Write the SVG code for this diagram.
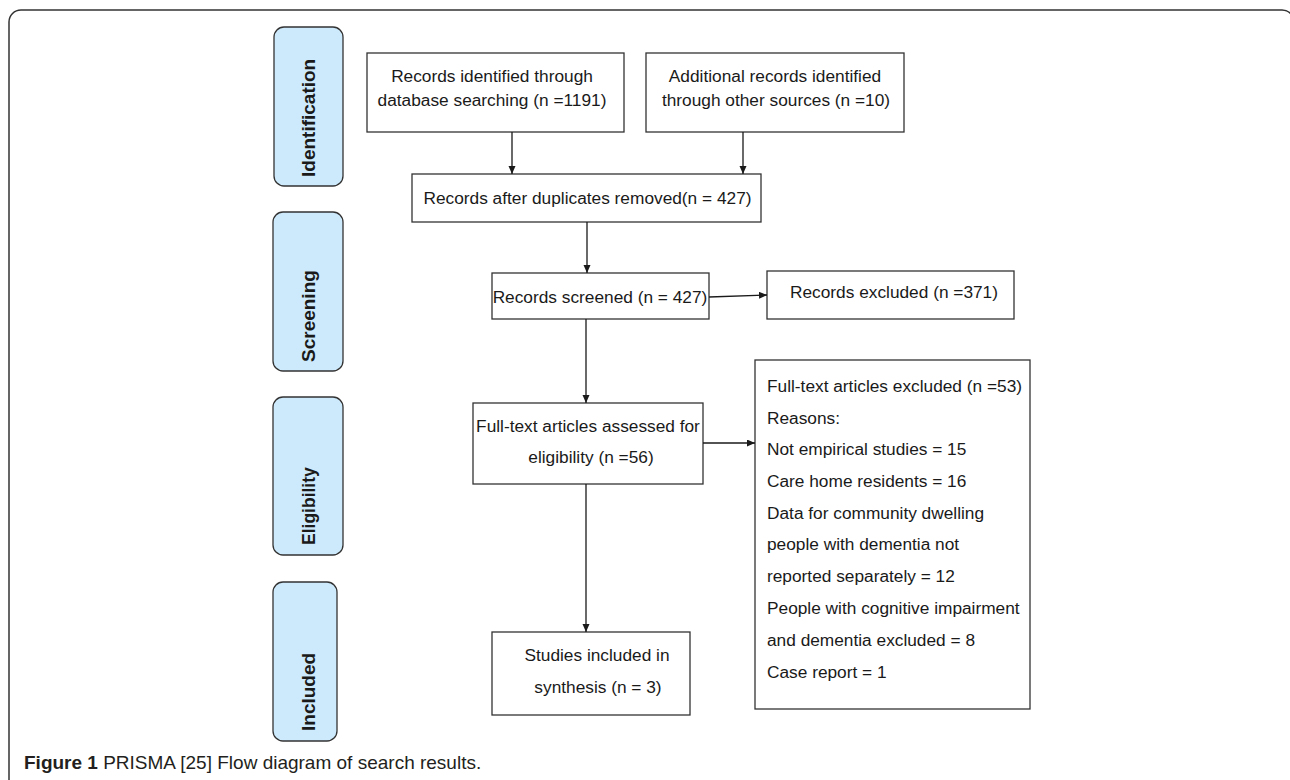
<svg xmlns="http://www.w3.org/2000/svg" width="1290" height="780" viewBox="0 0 1290 780">
<style>
.frame{fill:none;stroke:#333;stroke-width:1.5}
.stage{fill:#cdeafc;stroke:#333;stroke-width:1.3}
.stxt{font-family:"Liberation Sans",Arial,sans-serif;font-weight:bold;font-size:19px;fill:#1a1a1a}
.box{fill:#fff;stroke:#333;stroke-width:1.3}
.t{font-family:"Liberation Sans",Arial,sans-serif;font-size:17.3px;fill:#1a1a1a}
.c{text-anchor:middle}
.conn{stroke:#1a1a1a;stroke-width:1.3;fill:none;marker-end:url(#ah)}
.cap{font-family:"Liberation Sans",Arial,sans-serif;font-size:19px;fill:#231f20}
</style>
<defs>
<marker id="ah" markerUnits="userSpaceOnUse" markerWidth="9" markerHeight="8" refX="8" refY="3.5" orient="auto">
<path d="M0,0 L8,3.5 L0,7 z" fill="#1a1a1a"/>
</marker>
</defs>
<rect width="1290" height="780" fill="#fff"/>
<rect class="frame" x="9" y="10" width="1285" height="800" rx="12" ry="12"/>

<g id="stage-identification">
<rect class="stage" x="274" y="27" width="69" height="159" rx="10"/>
<text class="stxt" transform="translate(315,177) rotate(-90)">Identification</text>
</g>
<g id="stage-screening">
<rect class="stage" x="273" y="212" width="70" height="159" rx="10"/>
<text class="stxt" transform="translate(315,362) rotate(-90)">Screening</text>
</g>
<g id="stage-eligibility">
<rect class="stage" x="273" y="397" width="70" height="158" rx="10"/>
<text class="stxt" transform="translate(315,545) rotate(-90)" style="font-size:17.5px">Eligibility</text>
</g>
<g id="stage-included">
<rect class="stage" x="273" y="582" width="64" height="159" rx="10"/>
<text class="stxt" transform="translate(315,731) rotate(-90)">Included</text>
</g>

<g id="n-database">
<rect class="box" x="367" y="53" width="257" height="79"/>
<text class="t c" x="492" y="82">Records identified through</text>
<text class="t c" x="492" y="106">database searching (n =1191)</text>
</g>
<g id="n-other">
<rect class="box" x="646" y="53" width="258" height="79"/>
<text class="t c" x="775" y="82">Additional records identified</text>
<text class="t c" x="776" y="106">through other sources (n =10)</text>
</g>
<g id="n-duplicates">
<rect class="box" x="412" y="174" width="349" height="48"/>
<text class="t c" x="587.5" y="204">Records after duplicates removed(n = 427)</text>
</g>
<g id="n-screened">
<rect class="box" x="492" y="273" width="217" height="46"/>
<text class="t c" x="600" y="302.5">Records screened (n = 427)</text>
</g>
<g id="n-excluded">
<rect class="box" x="767" y="271" width="247" height="48"/>
<text class="t c" x="894" y="298">Records excluded (n =371)</text>
</g>
<g id="n-fulltext">
<rect class="box" x="473" y="403" width="230" height="81"/>
<text class="t c" x="588" y="432">Full-text articles assessed for</text>
<text class="t c" x="591" y="463">eligibility (n =56)</text>
</g>
<g id="n-ft-excluded">
<rect class="box" x="755" y="360" width="275" height="349"/>
<text class="t" x="767" y="392">Full-text articles excluded (n =53)</text>
<text class="t" x="767" y="424">Reasons:</text>
<text class="t" x="767" y="455">Not empirical studies = 15</text>
<text class="t" x="767" y="487">Care home residents = 16</text>
<text class="t" x="767" y="519">Data for community dwelling</text>
<text class="t" x="767" y="550">people with dementia not</text>
<text class="t" x="767" y="582">reported separately = 12</text>
<text class="t" x="767" y="614">People with cognitive impairment</text>
<text class="t" x="767" y="646">and dementia excluded = 8</text>
<text class="t" x="767" y="678">Case report = 1</text>
</g>
<g id="n-included">
<rect class="box" x="492" y="632" width="198" height="83"/>
<text class="t c" x="597" y="660.5">Studies included in</text>
<text class="t c" x="598" y="693">synthesis (n = 3)</text>
</g>

<g id="connectors">
<line class="conn" x1="512" y1="132" x2="512" y2="174"/>
<line class="conn" x1="743" y1="132" x2="743" y2="174"/>
<line class="conn" x1="587" y1="222" x2="587" y2="273"/>
<line class="conn" x1="709" y1="297" x2="767" y2="295"/>
<line class="conn" x1="586" y1="319" x2="586" y2="403"/>
<line class="conn" x1="703" y1="443" x2="755" y2="443"/>
<line class="conn" x1="586" y1="484" x2="586" y2="632"/>
</g>

<text class="cap" x="24" y="769"><tspan font-weight="bold">Figure 1</tspan> PRISMA [25] Flow diagram of search results.</text>
</svg>
